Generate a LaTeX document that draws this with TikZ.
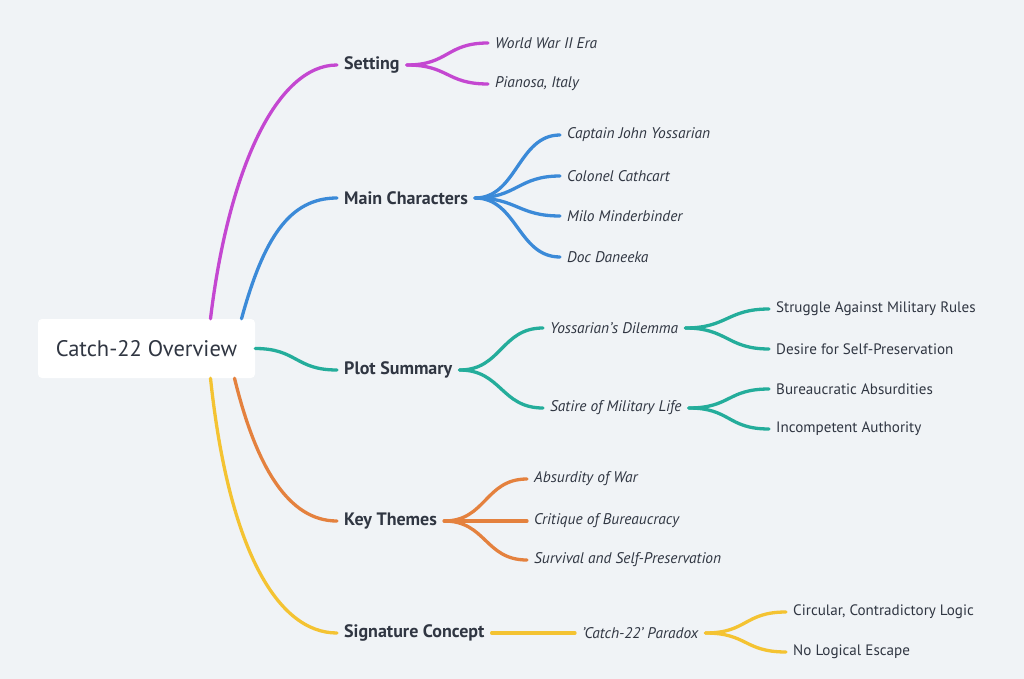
\documentclass[tikz,border=0pt]{standalone}
\usepackage{fontspec}
\setmainfont{PT Sans}
\usetikzlibrary{positioning}

\definecolor{bgc}{RGB}{240,243,246}
\definecolor{txc}{RGB}{48,54,66}
\definecolor{magc}{RGB}{196,71,209}
\definecolor{bluc}{RGB}{59,138,216}
\definecolor{teac}{RGB}{36,173,155}
\definecolor{orac}{RGB}{228,129,62}
\definecolor{yelc}{RGB}{244,195,50}

\begin{document}
\begin{tikzpicture}
  [
   x=1pt, y=-1pt,
   rootn/.style={rectangle,rounded corners=4pt,fill=white,text=txc,minimum width=217pt,minimum height=59pt,font=\fontsize{22.5}{26}\selectfont},
   topn/.style={anchor=west,inner xsep=7pt,inner ysep=2pt,text=txc,font=\fontsize{18}{21}\selectfont\bfseries},
   subn/.style={anchor=west,inner xsep=7pt,inner ysep=2pt,text=txc,font=\fontsize{15.4}{18}\selectfont\itshape},
   leafn/.style={anchor=west,inner xsep=7pt,inner ysep=2pt,text=txc,font=\fontsize{15.1}{18}\selectfont},
   br/.style={line width=3.3pt,line cap=round}
  ]
   \fill[bgc] (0,0) rectangle (1024,679);
   \useasboundingbox (0,0) rectangle (1024,679);

   \node[rootn] (root) at (146.5,348.5) {Catch-22 Overview};

   \node[topn] (set) at (337,65)  {Setting};
   \node[topn] (chr) at (337,198) {Main Characters};
   \node[topn] (plt) at (337,370) {Plot Summary};
   \node[topn] (thm) at (337,521) {Key Themes};
   \node[topn] (sig) at (337,633) {Signature Concept};

   \node[subn] (set1) at (488,43) {World War II Era};
   \node[subn] (set2) at (488,84) {Pianosa, Italy};

   \node[subn] (chr1) at (560,135) {Captain John Yossarian};
   \node[subn] (chr2) at (560,176) {Colonel Cathcart};
   \node[subn] (chr3) at (560,216) {Milo Minderbinder};
   \node[subn] (chr4) at (560,257) {Doc Daneeka};

   \node[subn] (plt1) at (543,328) {Yossarian's Dilemma};
   \node[subn] (plt2) at (543,408) {Satire of Military Life};
   \node[leafn] (dil1) at (769,309) {Struggle Against Military Rules};
   \node[leafn] (dil2) at (769,349) {Desire for Self-Preservation};
   \node[leafn] (sat1) at (769,389) {Bureaucratic Absurdities};
   \node[leafn] (sat2) at (769,429) {Incompetent Authority};

   \node[subn] (thm1) at (527,479) {Absurdity of War};
   \node[subn] (thm2) at (527,521) {Critique of Bureaucracy};
   \node[subn] (thm3) at (527,560) {Survival and Self-Preservation};

   \node[subn] (sig1) at (575,633) {'Catch-22' Paradox};
   \node[leafn] (par1) at (786,612) {Circular, Contradictory Logic};
   \node[leafn] (par2) at (786,652) {No Logical Escape};

   % root to main branches
   \draw[br,magc] ([xshift=64pt]root.north) .. controls +(18,-150) and +(-60,0) .. (set.west);
   \draw[br,bluc] ([xshift=95pt]root.north) .. controls +(22,-80) and +(-48,0) .. (chr.west);
   \draw[br,teac] (root.east) .. controls +(42,0) and +(-42,0) .. (plt.west);
   \draw[br,orac] ([xshift=88pt]root.south) .. controls +(22,90) and +(-48,0) .. (thm.west);
   \draw[br,yelc] ([xshift=64pt]root.south) .. controls +(18,170) and +(-60,0) .. (sig.west);

   % setting
   \foreach \n in {set1,set2}
     \draw[br,magc] (set.east) .. controls +(42,0) and +(-42,0) .. (\n.west);
   % characters
   \foreach \n in {chr1,chr2,chr3,chr4}
     \draw[br,bluc] (chr.east) .. controls +(42,0) and +(-42,0) .. (\n.west);
   % plot
   \foreach \n in {plt1,plt2}
     \draw[br,teac] (plt.east) .. controls +(42,0) and +(-42,0) .. (\n.west);
   \foreach \n in {dil1,dil2}
     \draw[br,teac] (plt1.east) .. controls +(42,0) and +(-42,0) .. (\n.west);
   \foreach \n in {sat1,sat2}
     \draw[br,teac] (plt2.east) .. controls +(42,0) and +(-42,0) .. (\n.west);
   % themes
   \foreach \n in {thm1,thm2,thm3}
     \draw[br,orac] (thm.east) .. controls +(42,0) and +(-42,0) .. (\n.west);
   % signature
   \draw[br,yelc] (sig.east) -- (sig1.west);
   \foreach \n in {par1,par2}
     \draw[br,yelc] (sig1.east) .. controls +(42,0) and +(-42,0) .. (\n.west);

\end{tikzpicture}
\end{document}
